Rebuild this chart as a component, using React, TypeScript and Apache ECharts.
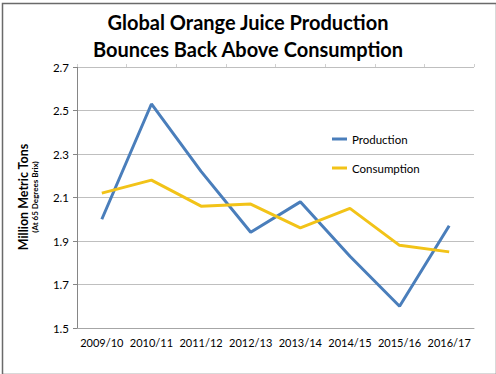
import React, { useEffect, useRef } from "react";
import * as echarts from "echarts";

const categories = ["2009/10", "2010/11", "2011/12", "2012/13", "2013/14", "2014/15", "2015/16", "2016/17"];
const production = [2.0, 2.53, 2.22, 1.94, 2.08, 1.83, 1.6, 1.97];
const consumption = [2.12, 2.18, 2.06, 2.07, 1.96, 2.05, 1.88, 1.85];
const titleLines = ["Global Orange Juice Production", "Bounces Back Above Consumption"];
const yName = "Million Metric Tons";
const ySubName = "(At 65 Degrees Brix)";

const FONT = "Lato, 'Open Sans', sans-serif";

export default function App() {
  const ref = useRef<HTMLDivElement>(null);
  useEffect(() => {
    const chart = echarts.init(ref.current!, null, { renderer: "svg" });
    chart.setOption({
      animation: false,
      backgroundColor: "#ffffff",
      textStyle: { fontFamily: FONT },
      title: {
        text: titleLines.join("\n"),
        left: "center",
        top: 3,
        textStyle: { fontFamily: FONT, fontWeight: "bold", fontSize: 20, lineHeight: 27, color: "#000" },
      },
      grid: { left: 77, right: 22, top: 67, bottom: 46, containLabel: false },
      legend: {
        orient: "vertical",
        left: 327,
        top: 128,
        itemGap: 17,
        itemWidth: 15,
        itemHeight: 3,
        icon: "rect",
        textStyle: { fontFamily: FONT, fontSize: 11.5, color: "#000" },
        data: ["Production", "Consumption"],
      },
      xAxis: [
        {
          type: "category",
          data: categories,
          boundaryGap: true,
          axisLine: { lineStyle: { color: "#a6a6a6", width: 1 } },
          axisTick: { show: false },
          axisLabel: { fontFamily: FONT, fontSize: 11, color: "#000", margin: 9, interval: 0 },
          splitLine: { show: false },
        },
        {
          type: "category",
          data: categories,
          position: "top",
          boundaryGap: true,
          axisLine: { show: false },
          axisTick: { show: true, length: 3, inside: false, interval: 0, lineStyle: { color: "#d0d0d0" } },
          axisLabel: { show: false },
        },
      ],
      yAxis: {
        type: "value",
        min: 1.5,
        max: 2.7,
        interval: 0.2,
        axisLine: { show: true, lineStyle: { color: "#868686", width: 1 } },
        axisTick: { show: true, length: 4, lineStyle: { color: "#868686" } },
        axisLabel: {
          fontFamily: FONT,
          fontSize: 11.5,
          color: "#000",
          margin: 8,
          formatter: (v: number) => v.toFixed(1),
        },
        splitLine: { show: true, lineStyle: { color: "#bfbfbf", width: 1 } },
      },
      series: [
        {
          name: "Production",
          type: "line",
          data: production,
          symbol: "none",
          lineStyle: { color: "#4a7ebb", width: 3 },
          itemStyle: { color: "#4a7ebb" },
          xAxisIndex: 0,
        },
        {
          name: "Consumption",
          type: "line",
          data: consumption,
          symbol: "none",
          lineStyle: { color: "#f2c318", width: 3 },
          itemStyle: { color: "#f2c318" },
          xAxisIndex: 0,
        },
      ],
      graphic: [
        {
          type: "rect",
          left: 0,
          top: 1,
          shape: { width: 494, height: 371 },
          style: { fill: "none", stroke: "#6a6a6a", lineWidth: 1.5 },
          silent: true,
        },
        {
          type: "text",
          x: 23,
          y: 197,
          rotation: Math.PI / 2,
          style: {
            text: yName,
            fontFamily: FONT,
            fontWeight: "bold",
            fontSize: 12.5,
            fill: "#000",
            align: "center",
            verticalAlign: "middle",
          },
        },
        {
          type: "text",
          x: 34.5,
          y: 197,
          rotation: Math.PI / 2,
          style: {
            text: ySubName,
            fontFamily: FONT,
            fontWeight: "bold",
            fontSize: 8,
            fill: "#000",
            align: "center",
            verticalAlign: "middle",
          },
        },
      ],
    });
    return () => chart.dispose();
  }, []);
  return <div ref={ref} style={{ position: "fixed", left: 0, top: 0, width: 496, height: 374 }} />;
}
